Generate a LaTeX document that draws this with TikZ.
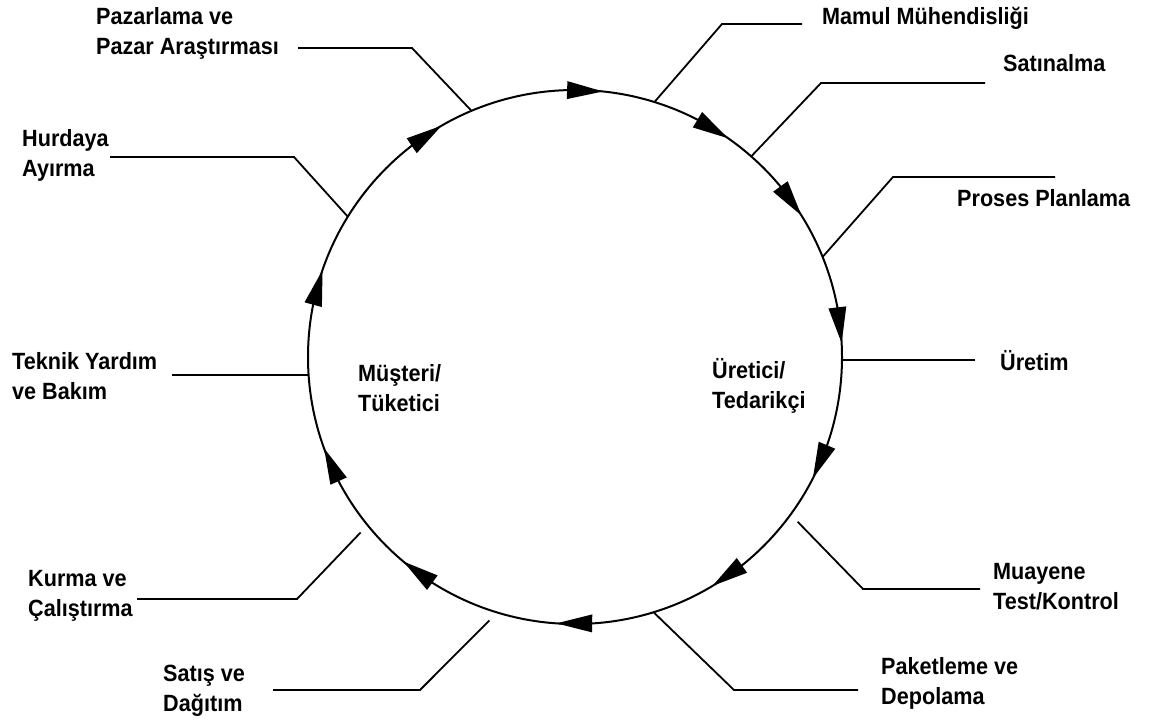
\documentclass[tikz,border=0pt]{standalone}
\usepackage{fontspec}
\setmainfont{Liberation Sans}[FakeStretch=0.92]
\usetikzlibrary{calc}
\begin{document}
\begin{tikzpicture}[x=1pt,y=-1pt,
  lab/.style={font=\fontsize{23.5}{30}\selectfont\bfseries, align=left, inner sep=0pt, anchor=west},
  lead/.style={line width=1.8pt},
  ring/.style={line width=2pt},
  head/.style={fill=black}]
\useasboundingbox (0,0) rectangle (1160,725);
\fill[white] (0,0) rectangle (1160,725);

\coordinate (C) at (575,357);
\draw[ring] (C) circle[radius=267];

% arrowheads along the circle (clockwise flow)
\foreach \t [count=\i] in {276,305,328,357,27,59,94,130,160,199,240} {
  \coordinate (tip\i) at ([shift={(\t:267)}]C);
  \coordinate (bse\i) at ([shift={(\t-7.7:267)}]C);
  \fill[head] (tip\i) -- ($(bse\i)!9pt!90:(tip\i)$) -- ($(bse\i)!9pt!-90:(tip\i)$) -- cycle;
}

% labels
\node[lab] (pazar) at (96,33) {Pazarlama ve\\Pazar Araştırması};
\node[lab] (hurda) at (22,155) {Hurdaya\\Ayırma};
\node[lab] (teknik) at (12,376) {Teknik Yardım\\ve Bakım};
\node[lab] (kurma) at (28,596) {Kurma ve\\Çalıştırma};
\node[lab] (satis) at (163,691) {Satış ve\\Dağıtım};
\node[lab] (paket) at (881,683) {Paketleme ve\\Depolama};
\node[lab] (muayene) at (993,587) {Muayene\\Test/Kontrol};
\node[lab] (uretim) at (1000,361) {Üretim};
\node[lab] (proses) at (957,198) {Proses Planlama};
\node[lab] (satin) at (1003,63) {Satınalma};
\node[lab] (mamul) at (822,18) {Mamul Mühendisliği};
\node[lab] (musteri) at (358,388) {Müşteri/\\Tüketici};
\node[lab] (uretici) at (712,386) {Üretici/\\Tedarikçi};

% leader points on / near the circle
\coordinate (pMamul) at ([shift={(-72.7:267)}]C);
\coordinate (pSatin) at ([shift={(-48.7:267)}]C);
\coordinate (pProses) at ([shift={(-22:267)}]C);
\coordinate (pUretim) at (842,360);
\coordinate (pMuay) at ([shift={(36.5:277)}]C);
\coordinate (pPaket) at ([shift={(72.9:267)}]C);
\coordinate (pSatis) at ([shift={(108:277)}]C);
\coordinate (pKurma) at ([shift={(140.7:277)}]C);
\coordinate (pTeknik) at (308.6,375);
\coordinate (pHurda) at ([shift={(-148.3:267)}]C);
\coordinate (pPazar) at ([shift={(-112.8:267)}]C);

% leaders
\draw[lead] (802,24) -- (722,24) -- (pMamul);
\draw[lead] (985,83) -- (821,83) -- (pSatin);
\draw[lead] (1055,177) -- (893,177) -- (pProses);
\draw[lead] (975,360) -- (pUretim);
\draw[lead] (980,589) -- (863,589) -- (pMuay);
\draw[lead] (858,690) -- (734,690) -- (pPaket);
\draw[lead] (273,690) -- (420,690) -- (pSatis);
\draw[lead] (137,599) -- (297,599) -- (pKurma);
\draw[lead] (172,375) -- (pTeknik);
\draw[lead] (110,157) -- (294,157) -- (pHurda);
\draw[lead] (298,48) -- (412,48) -- (pPazar);
\end{tikzpicture}
\end{document}
